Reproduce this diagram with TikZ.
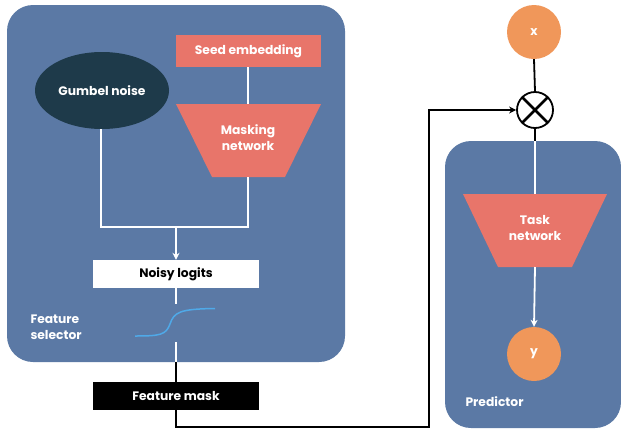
\documentclass[tikz,border=0pt]{standalone}
\usepackage{fontspec}
\setmainfont{Poppins}
\usetikzlibrary{arrows.meta,shapes.geometric,calc}
\definecolor{panel}{HTML}{5B79A5}
\definecolor{coral}{HTML}{E8756A}
\definecolor{darkteal}{HTML}{1E3A4A}
\definecolor{orng}{HTML}{F0975A}
\definecolor{sigblue}{HTML}{4FA9E8}
\tikzset{
  lbl/.style={font=\bfseries\fontsize{12.3}{16}\selectfont, text=white, align=center},
  wline/.style={white, line width=1.8pt},
  bline/.style={black, line width=1.8pt},
  warrow/.style={wline, -{Stealth[length=7pt,width=7pt]}},
  barrow/.style={bline, -{Stealth[length=7pt,width=7pt]}},
}
\begin{document}
\begin{tikzpicture}[x=1pt,y=-1pt]
\useasboundingbox (0,0) rectangle (621,429);
% panels
\fill[panel, rounded corners=26pt] (7,5) rectangle (345,362);
\fill[panel, rounded corners=26pt] (445,141) rectangle (621,428);
% nodes
\node[fill=coral, minimum width=145pt, minimum height=32pt, inner sep=0pt, lbl] (seed) at (248.5,51) {Seed embedding};
\node[fill=darkteal, ellipse, minimum width=134pt, minimum height=77pt, inner sep=0pt, lbl] (gumbel) at (102,90.5) {Gumbel noise};
\fill[coral] (176,104) -- (321,104) -- (285,177) -- (212,177) -- cycle;
\coordinate (masktop) at (248,104);
\coordinate (maskbot) at (248,177);
\node[lbl] (masking) at (248,138) {Masking\\network};
\node[fill=white, minimum width=166pt, minimum height=28pt, inner sep=0pt, lbl, text=black] (noisy) at (176,274) {Noisy logits};
\node[fill=black, minimum width=166pt, minimum height=28pt, inner sep=0pt, lbl] (fmask) at (176,396) {Feature mask};
\node[lbl, align=left, anchor=west] (fsel) at (27,327) {Feature\\selector};
% sigmoid
\draw[sigblue, line width=1.5pt] (135,336) .. controls (160,336) and (166,335) .. (170,324) .. controls (174,312) and (180,309) .. (215,308.5);
% right side
\node[circle, fill=orng, minimum size=54pt, inner sep=0pt, lbl] (x) at (534,32) {x};
\node[circle, draw=black, line width=1.8pt, fill=white, minimum size=36pt, inner sep=0pt] (mult) at (535,110) {};
\draw[black, line width=2.8pt] (mult.45) -- (mult.225);
\draw[black, line width=2.8pt] (mult.135) -- (mult.315);
\fill[coral] (463,194) -- (607,194) -- (572,267) -- (498,267) -- cycle;
\coordinate (tasktop) at (535,194);
\coordinate (taskbot) at (535,267);
\node[lbl] (task) at (535,228) {Task\\network};
\node[circle, fill=orng, minimum size=54pt, inner sep=0pt, lbl] (y) at (534,354) {y};
\node[lbl, anchor=west] (pred) at (462,402) {Predictor};
% connectors left
\coordinate (j1) at (101,227);
\coordinate (j2) at (248,227);
\coordinate (j3) at (176,227);
\draw[wline] (seed.south -| masktop) -- (masktop);
\draw[wline] (gumbel.south -| j1) -- (j1) -- (j2) -- (maskbot);
\draw[warrow] (j3) -- (noisy.north);
\coordinate (s1) at (176,304);
\coordinate (s2) at (176,342);
\coordinate (bb) at (176,362);
\draw[wline] (noisy.south) -- (s1);
\draw[wline] (s2) -- (bb);
\draw[bline] (bb) -- (fmask.north);
\coordinate (c1) at (176,427);
\coordinate (c2) at (429,427);
\coordinate (c3) at (429,110);
\draw[barrow] (fmask.south) -- (c1) -- (c2) -- (c3) -- (mult.west);
% connectors right
\draw[bline] (x.south) -- (mult.north);
\coordinate (pt) at (535,141);
\draw[bline] (mult.south) -- (pt);
\draw[wline] (pt) -- (tasktop);
\draw[warrow] (taskbot) -- (y.north);
\end{tikzpicture}
\end{document}
